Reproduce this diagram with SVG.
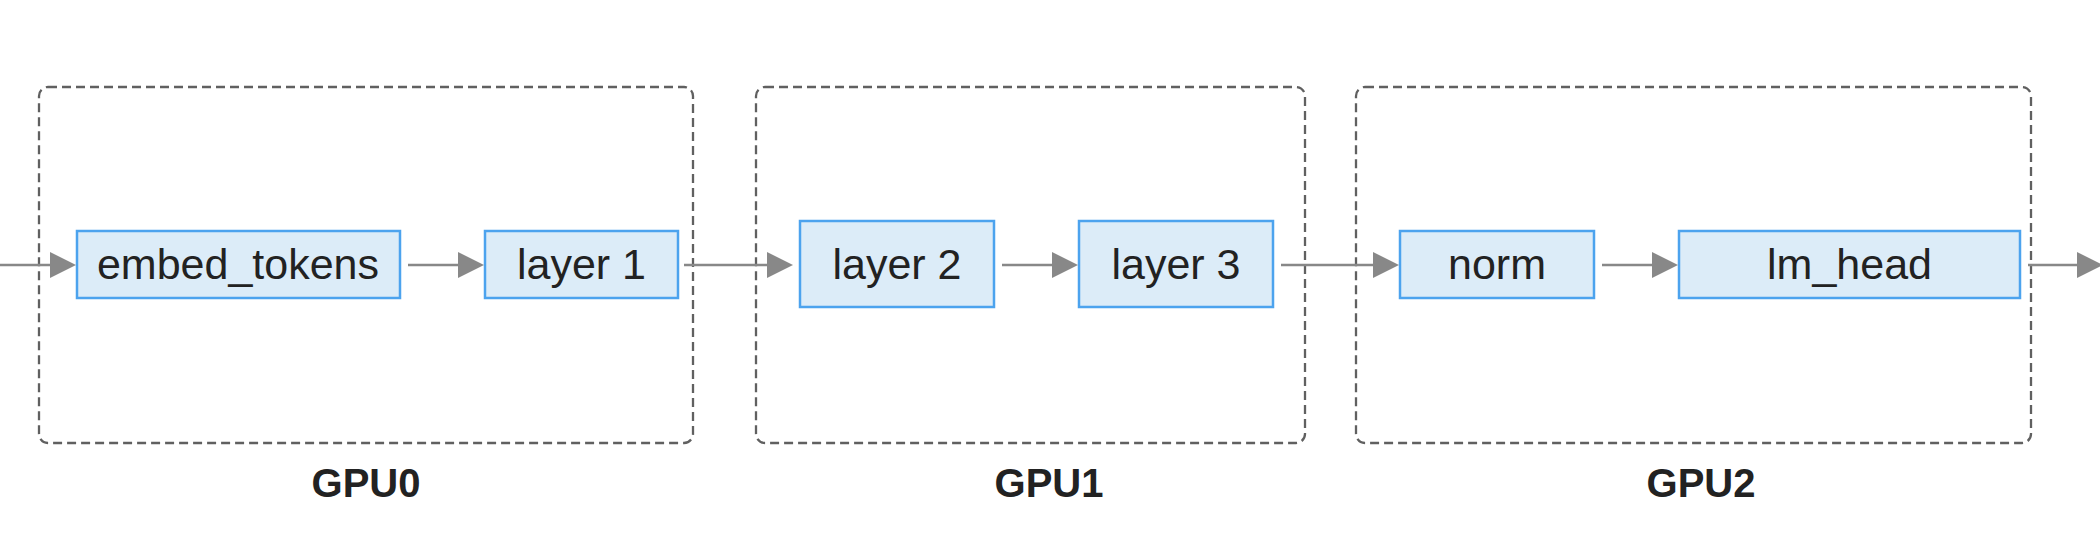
<svg xmlns="http://www.w3.org/2000/svg" width="2100" height="552" viewBox="0 0 2100 552">
  <defs>
    <style>
      .grp { fill: none; stroke: #606060; stroke-width: 2.3; stroke-dasharray: 9 5; }
      .node rect { fill: #dcecf8; stroke: #4ca3ee; stroke-width: 2.5; }
      .node text { font-family: "Liberation Sans", Arial, sans-serif; font-size: 43px; fill: #222222; text-anchor: middle; }
      .lbl { font-family: "Liberation Sans", Arial, sans-serif; font-size: 40px; font-weight: bold; fill: #222222; text-anchor: middle; }
      .conn line { stroke: #888888; stroke-width: 2.5; marker-end: url(#arrow); }
    </style>
    <marker id="arrow" viewBox="0 0 26 26" refX="1" refY="13" markerWidth="26" markerHeight="26" markerUnits="userSpaceOnUse" orient="auto">
      <path d="M0,0 L26,13 L0,26 z" fill="#888888"/>
    </marker>
  </defs>
  <rect width="2100" height="552" fill="#ffffff"/>

  <g id="gpu0">
    <rect class="grp" x="39" y="87" width="654" height="356" rx="9"/>
    <text class="lbl" x="366" y="497">GPU0</text>
  </g>
  <g id="gpu1">
    <rect class="grp" x="756" y="87" width="549" height="356" rx="9"/>
    <text class="lbl" x="1049" y="497">GPU1</text>
  </g>
  <g id="gpu2">
    <rect class="grp" x="1356" y="87" width="675" height="356" rx="9"/>
    <text class="lbl" x="1701" y="497">GPU2</text>
  </g>

  <g id="embed_tokens" class="node">
    <rect x="77" y="231" width="323" height="67"/>
    <text x="238" y="279">embed_tokens</text>
  </g>
  <g id="layer1" class="node">
    <rect x="485" y="231" width="193" height="67"/>
    <text x="581.5" y="279">layer 1</text>
  </g>
  <g id="layer2" class="node">
    <rect x="800" y="221" width="194" height="86"/>
    <text x="897" y="279">layer 2</text>
  </g>
  <g id="layer3" class="node">
    <rect x="1079" y="221" width="194" height="86"/>
    <text x="1176" y="279">layer 3</text>
  </g>
  <g id="norm" class="node">
    <rect x="1400" y="231" width="194" height="67"/>
    <text x="1497" y="279">norm</text>
  </g>
  <g id="lm_head" class="node">
    <rect x="1679" y="231" width="341" height="67"/>
    <text x="1849.5" y="279">lm_head</text>
  </g>

  <g id="connectors" class="conn">
    <line x1="0" y1="265" x2="51" y2="265"/>
    <line x1="408" y1="265" x2="459" y2="265"/>
    <line x1="684" y1="265" x2="768" y2="265"/>
    <line x1="1002" y1="265" x2="1053" y2="265"/>
    <line x1="1281" y1="265" x2="1374" y2="265"/>
    <line x1="1602" y1="265" x2="1653" y2="265"/>
    <line x1="2028" y1="265" x2="2078" y2="265"/>
  </g>
</svg>
